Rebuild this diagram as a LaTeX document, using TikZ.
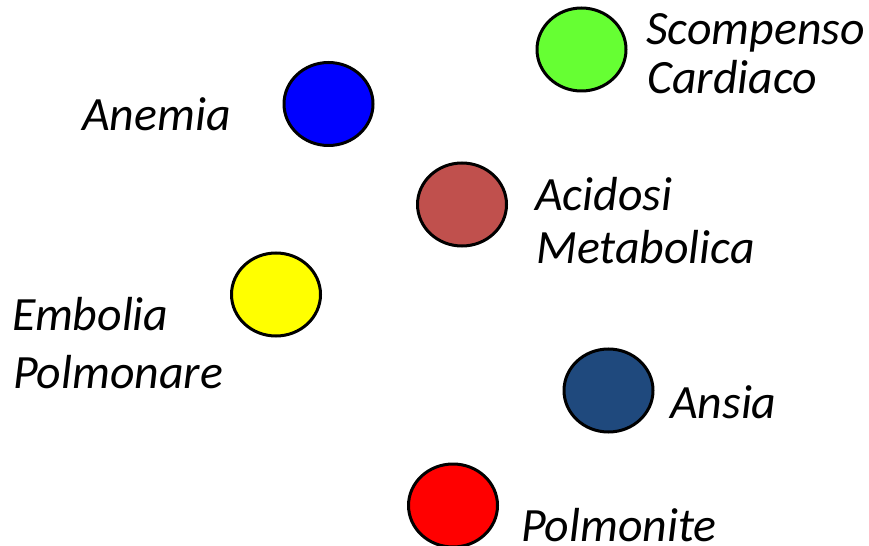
\documentclass[tikz,border=0pt]{standalone}
\usepackage{fontspec}
\setmainfont{Carlito}
\begin{document}
\begin{tikzpicture}[x=1bp,y=-1bp,
  dot/.style={draw=black,line width=3bp},
  lbl/.style={inner sep=0pt,anchor=base west,font=\fontsize{47.8bp}{52bp}\selectfont\itshape}]
\useasboundingbox (0,0) rectangle (869,546);
\clip (0,0) rectangle (869,546);
\definecolor{cgreen}{HTML}{66FF33}
\definecolor{cblue}{HTML}{0000FF}
\definecolor{cbrown}{HTML}{C0504D}
\definecolor{cyellow}{HTML}{FFFF00}
\definecolor{cnavy}{HTML}{1F497D}
\definecolor{cred}{HTML}{FF0000}
\filldraw[dot,fill=cgreen] (581.5,49.5) ellipse [x radius=44.5,y radius=41.5];
\filldraw[dot,fill=cblue] (328.5,104) ellipse [x radius=44.5,y radius=41.5];
\filldraw[dot,fill=cbrown] (462,204.5) ellipse [x radius=44.5,y radius=41.5];
\filldraw[dot,fill=cyellow] (276,294.5) ellipse [x radius=44.5,y radius=41.5];
\filldraw[dot,fill=cnavy] (608.5,390.5) ellipse [x radius=44.5,y radius=41.5];
\filldraw[dot,fill=cred] (453,505.5) ellipse [x radius=44.5,y radius=41.5];
\node[lbl] (sc1) at (646,45) {Scompenso};
\node[lbl] (sc2) at (647,94) {Cardiaco};
\node[lbl] (an) at (82,131) {Anemia};
\node[lbl] (ac1) at (535,211) {Acidosi};
\node[lbl] (ac2) at (536,264) {Metabolica};
\node[lbl] (em1) at (12,331) {Embolia};
\node[lbl] (em2) at (13,388) {Polmonare};
\node[lbl] (ans) at (670,418) {Ansia};
\node[lbl] (pol) at (521,541) {Polmonite};
\end{tikzpicture}
\end{document}
